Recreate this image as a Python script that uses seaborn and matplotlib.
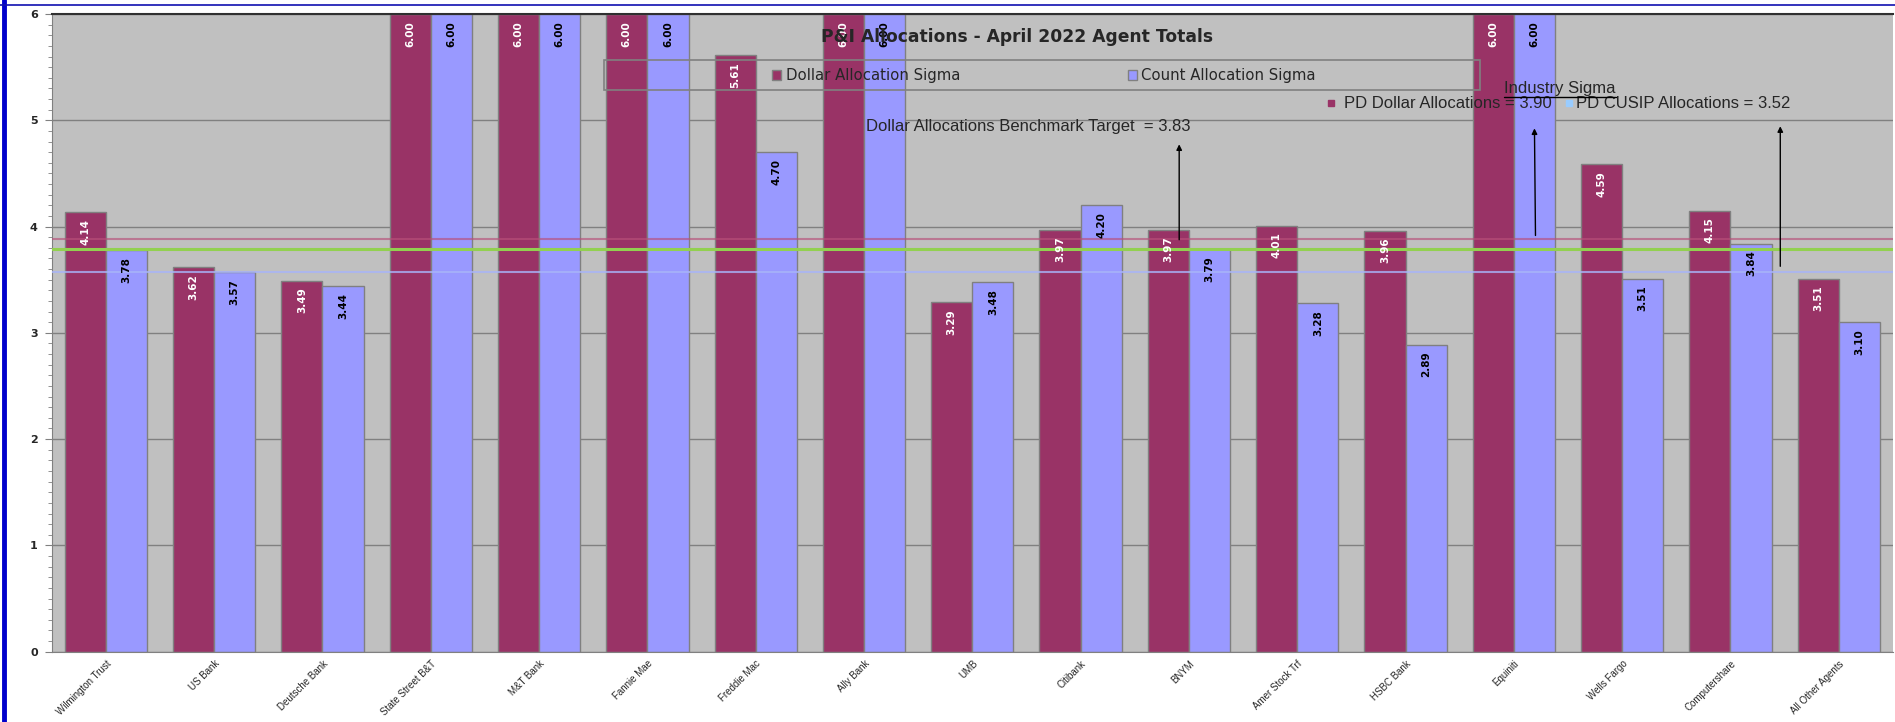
import numpy as np
import pandas as pd
import matplotlib.pyplot as plt
import seaborn as sns
from matplotlib.lines import Line2D
from matplotlib.patches import Rectangle
from matplotlib.ticker import MultipleLocator, FixedLocator

sns.set_style("white")
plt.rcParams['font.family'] = ['Liberation Sans', 'DejaVu Sans']

# values
agents = ['Wilmington Trust', 'US Bank', 'Deutsche Bank', 'State Street B&T', 'M&T Bank',
          'Fannie Mae', 'Freddie Mac', 'Ally Bank', 'UMB', 'Citibank', 'BNYM',
          'Amer Stock Trf', 'HSBC Bank', 'Equiniti', 'Wells Fargo', 'Computershare',
          'All Other Agents']
dollar_sigma = [4.14, 3.62, 3.49, 6.00, 6.00, 6.00, 5.61, 6.00, 3.29, 3.97, 3.97,
                4.01, 3.96, 6.00, 4.59, 4.15, 3.51]
count_sigma = [3.78, 3.57, 3.44, 6.00, 6.00, 6.00, 4.70, 6.00, 3.48, 4.20, 3.79,
               3.28, 2.89, 6.00, 3.51, 3.84, 3.10]
series_names = ['Dollar Allocation Sigma', 'Count Allocation Sigma']
series_colors = ['#993366', '#9999FF']

pd_dollar_level = 3.88
benchmark_level = 3.79
pd_cusip_level = 3.57

df = pd.DataFrame({
    'agent': agents * 2,
    'sigma': dollar_sigma + count_sigma,
    'series': [series_names[0]] * len(agents) + [series_names[1]] * len(agents),
})

fig = plt.figure(figsize=(18.95, 7.22), dpi=100)
ax = fig.add_axes([0.0273, 0.0974, 0.9716, 0.8832])
ax.set_facecolor('#C0C0C0')

sns.barplot(data=df, x='agent', y='sigma', hue='series', palette=series_colors,
            saturation=1, width=0.76, edgecolor='#808080', linewidth=1,
            errorbar=None, ax=ax, zorder=2)

ax.set_xlim(-0.5, len(agents) - 0.5)
ax.set_ylim(0, 6)
ax.set_xlabel('')
ax.set_ylabel('')
ax.set_axisbelow(True)
ax.yaxis.grid(True, color='#808080', linewidth=1)
ax.xaxis.grid(False)

# bar value labels, rotated, inside the top of each bar
label_colors = ['white', 'black']
for cont, col in zip(ax.containers, label_colors):
    for bar in cont:
        h = bar.get_height()
        ax.annotate(f'{h:.2f}', (bar.get_x() + bar.get_width() / 2, h),
                    xytext=(0, -5), textcoords='offset points', rotation=90,
                    ha='center', va='top', color=col, fontsize=7.5,
                    fontweight='bold', family='DejaVu Sans', zorder=5)

# reference levels
ax.axhline(pd_dollar_level, color='#B8507A', lw=1.5, alpha=0.65, zorder=3)
ax.axhline(benchmark_level, color='#92D050', lw=2.2, zorder=3)
ax.axhline(pd_cusip_level, color='#A8B4F8', lw=1.5, alpha=0.8, zorder=3)

# arrows
arrow_kw = dict(arrowstyle='-|>', color='black', lw=1, mutation_scale=8)
ax.annotate('', xy=(9.91, 4.80), xytext=(9.91, 3.85), arrowprops=arrow_kw, zorder=6)
ax.annotate('', xy=(13.19, 4.95), xytext=(13.20, 3.89), arrowprops=arrow_kw, zorder=6)
ax.annotate('', xy=(15.46, 4.97), xytext=(15.46, 3.60), arrowprops=arrow_kw, zorder=6)

# texts
ax.text(8.41, 5.78, 'P&I Allocations - April 2022 Agent Totals', ha='center', va='center',
        fontsize=12.3, fontweight='bold', family='DejaVu Sans', zorder=6)
ax.text(7.02, 4.94, 'Dollar Allocations Benchmark Target  = 3.83', ha='left', va='center',
        fontsize=12, zorder=6)
ind = ax.text(12.91, 5.30, 'Industry Sigma', ha='left', va='center', fontsize=12, zorder=6)
ax.plot([11.31], [5.16], marker='s', ms=4, color='#993366', ls='none', zorder=6)
ax.text(11.43, 5.16, 'PD Dollar Allocations = 3.90', ha='left', va='center', fontsize=12, zorder=6)
ax.plot([13.51], [5.16], marker='s', ms=4, color='#99CCFF', ls='none', zorder=6)
ax.text(13.57, 5.16, 'PD CUSIP Allocations = 3.52', ha='left', va='center', fontsize=12, zorder=6)

# legend inside an outlined box
ax.add_patch(Rectangle((0.300, 0.881), 0.476, 0.047, transform=ax.transAxes, fill=False,
                       edgecolor='#808080', lw=1.2, zorder=4))
sns.move_legend(ax, 'center', bbox_to_anchor=(0.539, 0.903), ncol=2, frameon=False,
                title=None, prop={'family': 'DejaVu Sans', 'size': 10.7},
                handlelength=0.6, handleheight=0.6, handletextpad=0.3, columnspacing=11.3)

# ticks
ax.set_xticks(range(len(agents)))
ax.set_xticklabels(agents, rotation=45, ha='right', rotation_mode='anchor', fontsize=7)
ax.xaxis.set_minor_locator(FixedLocator(np.arange(-0.5, len(agents), 1)))
ax.tick_params(axis='x', which='major', length=0, pad=5)
ax.tick_params(axis='x', which='minor', length=4, color='#808080', direction='out')
ax.yaxis.set_major_locator(MultipleLocator(1))
ax.yaxis.set_minor_locator(MultipleLocator(0.1))
ax.tick_params(axis='y', which='major', length=5, color='#808080', direction='out',
               labelsize=8, pad=5, left=True)
ax.tick_params(axis='y', which='minor', length=3, color='#808080', direction='out', left=True)
for lbl in ax.get_yticklabels():
    lbl.set_fontweight('bold')
    lbl.set_family('DejaVu Sans')

for side in ['left', 'bottom']:
    ax.spines[side].set_color('#808080')
ax.spines['top'].set_color('#303030')
ax.spines['top'].set_linewidth(1.5)
ax.spines['right'].set_visible(False)

# underline "Industry Sigma"
fig.canvas.draw()
bb = ind.get_window_extent()
fig.add_artist(Line2D([bb.x0, bb.x1], [bb.y0 - 1, bb.y0 - 1], transform=None,
                      color='black', lw=1, zorder=7))

# blue frame edges
fig.add_artist(Line2D([0.0022, 0.0022], [0, 1], transform=fig.transFigure, color='#0000CC', lw=3.5))
fig.add_artist(Line2D([0, 1], [0.993, 0.993], transform=fig.transFigure, color='#1010B0', lw=1.2))

fig.savefig('out.png', dpi=100, facecolor='white')
